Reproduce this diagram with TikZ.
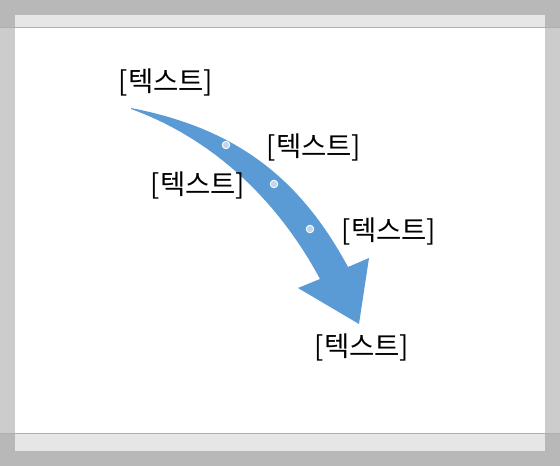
\documentclass[tikz,border=0pt]{standalone}
\usepackage{fontspec}
\newfontfamily\krfont{Noto Sans CJK KR}
\definecolor{frameA}{HTML}{B8B8B8}
\definecolor{frameB}{HTML}{CCCCCC}
\definecolor{frameC}{HTML}{E6E6E6}
\definecolor{frameL}{HTML}{AFAFAF}
\definecolor{arrowblue}{HTML}{5B9BD5}
\definecolor{dotblue}{HTML}{C3D5EC}
\tikzset{
  lbl/.style={font=\krfont\fontsize{27.5}{31}\selectfont, inner sep=0pt, text=black},
  dot/.style={circle, fill=dotblue, draw=white, line width=0.9pt, minimum size=7.5pt, inner sep=0pt}
}
\begin{document}
\begin{tikzpicture}[x=1pt,y=-1pt]
\useasboundingbox (0,0) rectangle (560,466);
% frame
\fill[frameA] (0,0) rectangle (560,466);
\fill[frameB] (0,27.5) rectangle (560,433.3);
\fill[frameC] (15,15) rectangle (545,451);
\fill[white] (15,27.5) rectangle (545,433.3);
\draw[frameL, line width=0.8pt] (0,27.5) -- (560,27.5);
\draw[frameL, line width=0.8pt] (0,433.3) -- (560,433.3);
% arrow
\fill[arrowblue] (131,108) .. controls (234,128) and (299,176) .. (348,267)
  -- (369,258) -- (359,324) -- (298,288) -- (320,279)
  .. controls (276,197) and (210,137.6) .. (131,109) -- cycle;
\node[dot] (d1) at (226,145) {};
\node[dot] (d2) at (274,184) {};
\node[dot] (d3) at (310,229) {};
% labels
\node[lbl] (t1) at (166,82) {[텍스트]};
\node[lbl] (t2) at (314,147) {[텍스트]};
\node[lbl] (t3) at (198,185) {[텍스트]};
\node[lbl] (t4) at (389,231) {[텍스트]};
\node[lbl] (t5) at (362,347) {[텍스트]};
\end{tikzpicture}
\end{document}
